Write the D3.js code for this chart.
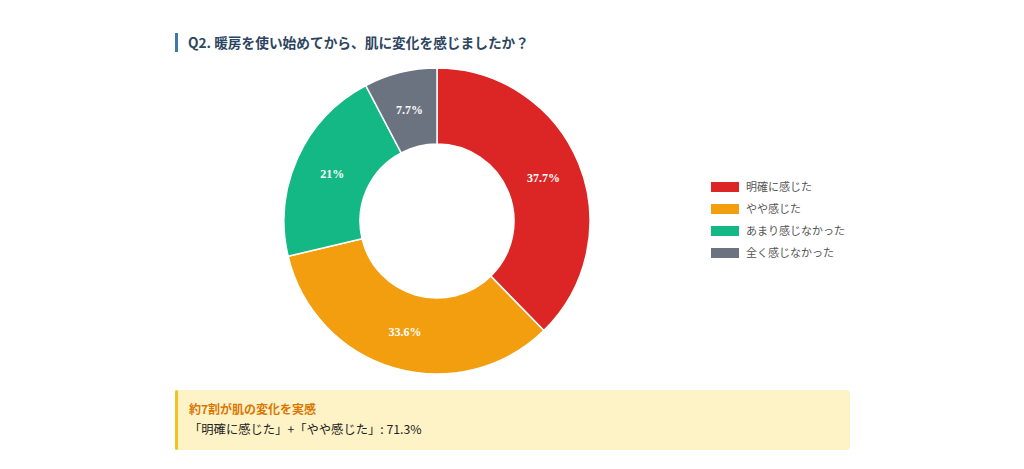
<!DOCTYPE html>
<html>
<head>
<meta charset="utf-8">
<script src="https://cdn.jsdelivr.net/npm/d3@7"></script>
<style>
  body { margin: 0; background: #fff; }
  svg { display: block; font-family: "Noto Sans CJK JP", "Noto Sans", sans-serif; }
</style>
</head>
<body>
<div id="chart"></div>
<script>
const categories = ["明確に感じた", "やや感じた", "あまり感じなかった", "全く感じなかった"];
const values = [37.7, 33.6, 21, 7.7];
const valueLabels = ["37.7%", "33.6%", "21%", "7.7%"];
const colors = ["#dc2626", "#f29e0f", "#14b884", "#6b7280"];

const titleText = "Q2. 暖房を使い始めてから、肌に変化を感じましたか？";
const noteHead = "約7割が肌の変化を実感";
const noteBody = "「明確に感じた」+「やや感じた」: 71.3%";

const dim = { width: 1024, height: 469 };
const pieCenter = { x: 437, y: 221 };
const outerR = 153;
const innerR = 77;

const svg = d3.select("#chart").append("svg")
    .attr("width", dim.width)
    .attr("height", dim.height);

// title
svg.append("rect")
    .attr("x", 175).attr("y", 33)
    .attr("width", 3).attr("height", 19)
    .attr("fill", "#3b7ba6");

svg.append("text")
    .attr("x", 188).attr("y", 48)
    .attr("font-size", 13.7)
    .attr("font-weight", "bold")
    .attr("fill", "#2d4560")
    .text(titleText);

// donut
const data = categories.map((c, i) => ({ cat: c, value: values[i], label: valueLabels[i], color: colors[i] }));

const pie = d3.pie()
    .sort(null)
    .value(d => d.value);

const arc = d3.arc()
    .innerRadius(innerR)
    .outerRadius(outerR);

const labelArc = d3.arc()
    .innerRadius((innerR + outerR) / 2)
    .outerRadius((innerR + outerR) / 2);

const g = svg.append("g")
    .attr("transform", `translate(${pieCenter.x},${pieCenter.y})`);

const arcs = pie(data);

g.selectAll(".slice")
    .data(arcs)
    .enter().append("path")
    .attr("class", "slice")
    .attr("d", arc)
    .attr("fill", d => d.data.color)
    .attr("stroke", "#fff")
    .attr("stroke-width", 1.5);

g.selectAll(".sliceLabel")
    .data(arcs)
    .enter().append("text")
    .attr("class", "sliceLabel")
    .attr("transform", d => `translate(${labelArc.centroid(d)})`)
    .attr("text-anchor", "middle")
    .attr("dy", "0.35em")
    .attr("font-family", "'Liberation Serif', 'DejaVu Serif', serif")
    .attr("font-weight", "bold")
    .attr("font-size", 12)
    .attr("fill", "#fff")
    .text(d => d.data.label);

// legend
const legendY = d3.scaleBand()
    .domain(categories)
    .range([176, 264]);

const legend = svg.selectAll(".legendItem")
    .data(data)
    .enter().append("g")
    .attr("class", "legendItem")
    .attr("transform", d => `translate(711,${legendY(d.cat)})`);

legend.append("rect")
    .attr("x", 0).attr("y", 6)
    .attr("width", 28).attr("height", 10)
    .attr("fill", d => d.color);

legend.append("text")
    .attr("x", 35).attr("y", 11)
    .attr("dy", "0.35em")
    .attr("font-size", 11)
    .attr("fill", "#555")
    .text(d => d.cat);

// note box
svg.append("rect")
    .attr("x", 175).attr("y", 390)
    .attr("width", 675).attr("height", 60)
    .attr("rx", 4)
    .attr("fill", "#fef3c7");

svg.append("rect")
    .attr("x", 175).attr("y", 390)
    .attr("width", 3).attr("height", 60)
    .attr("rx", 1.5)
    .attr("fill", "#f2c224");

svg.append("text")
    .attr("x", 189).attr("y", 414)
    .attr("font-size", 12)
    .attr("font-weight", "bold")
    .attr("fill", "#d97706")
    .text(noteHead);

svg.append("text")
    .attr("x", 189).attr("y", 434)
    .attr("font-size", 12.3)
    .attr("fill", "#222")
    .text(noteBody);
</script>
</body>
</html>
